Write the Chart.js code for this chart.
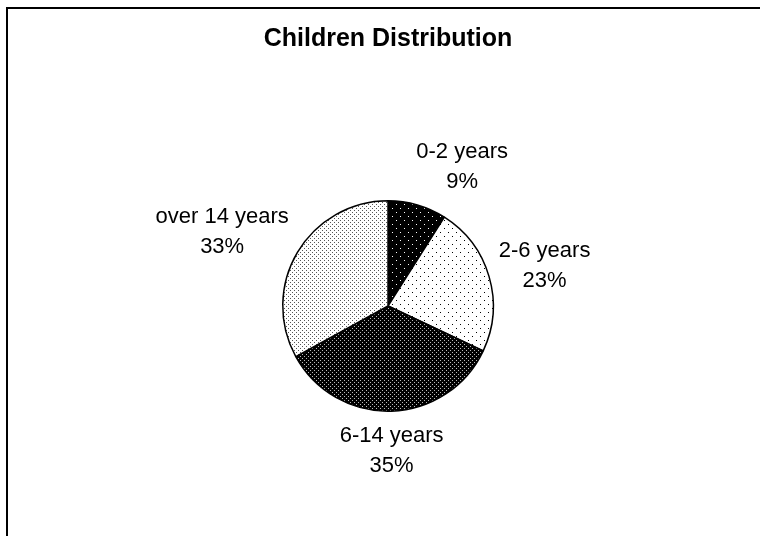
<!DOCTYPE html>
<html>
<head>
<meta charset="utf-8">
<script src="https://cdn.jsdelivr.net/npm/chart.js@4/dist/chart.umd.min.js"></script>
<style>
  html, body { margin: 0; padding: 0; background: #fff; }
  #wrap { width: 760px; height: 536px; }
</style>
</head>
<body>
<div id="wrap"><canvas id="graficoNinos" width="760" height="536"></canvas></div>
<script>
const categorias = ['0-2 years', '2-6 years', '6-14 years', 'over 14 years'];
const porcentajes = [9, 23, 35, 33];
const titulo = 'Children Distribution';

// dot patterns like the old print-style fills
function patron(size, fondo, punto, puntos) {
  const c = document.createElement('canvas');
  c.width = size; c.height = size;
  const g = c.getContext('2d');
  g.fillStyle = fondo;
  g.fillRect(0, 0, size, size);
  g.fillStyle = punto;
  puntos.forEach(p => g.fillRect(p[0], p[1], 1, 1));
  return g.createPattern(c, 'repeat');
}

const ctx = document.getElementById('graficoNinos').getContext('2d');
const rellenos = [
  patron(8, '#000', '#fff', [[0, 0], [4, 4]]),
  patron(8, '#fff', '#000', [[0, 0], [4, 4]]),
  patron(4, '#000', '#bbb', [[0, 0], [2, 2]]),
  patron(4, '#fff', '#555', [[0, 0], [2, 2]])
];

const marco = {
  id: 'marco',
  beforeDraw(chart) {
    const c = chart.ctx;
    c.save();
    c.fillStyle = '#fff';
    c.fillRect(0, 0, chart.width, chart.height);
    c.strokeStyle = '#000';
    c.lineWidth = 2;
    c.strokeRect(7, 8, 820, 620);
    c.restore();
  }
};

const etiquetas = {
  id: 'etiquetas',
  afterDatasetsDraw(chart) {
    const c = chart.ctx;
    const meta = chart.getDatasetMeta(0);
    const total = porcentajes.reduce((a, b) => a + b, 0);
    c.save();
    c.font = '22px "Liberation Sans", Arial, sans-serif';
    c.fillStyle = '#000';
    c.textAlign = 'center';
    c.textBaseline = 'middle';
    const alto = 30;
    meta.data.forEach((arc, i) => {
      const p = arc.getProps(['x', 'y', 'startAngle', 'endAngle', 'outerRadius'], true);
      const medio = (p.startAngle + p.endAngle) / 2;
      const dx = Math.cos(medio), dy = Math.sin(medio);
      const r = p.outerRadius + 10;
      const ax = p.x + dx * r, ay = p.y + dy * r;
      const lineas = [categorias[i], Math.round(porcentajes[i] / total * 100) + '%'];
      const ancho = Math.max(...lineas.map(t => c.measureText(t).width));
      const k = Math.sign(dx) * Math.min(1, Math.max(0, Math.abs(dx) - 0.05) * 4);
      const cx = ax + k * ancho / 2;
      const cy = ay + dy * alto;
      c.fillText(lineas[0], cx, cy - alto / 2);
      c.fillText(lineas[1], cx, cy + alto / 2);
    });
    c.restore();
  }
};

new Chart(ctx, {
  type: 'pie',
  data: {
    labels: categorias,
    datasets: [{
      data: porcentajes,
      backgroundColor: rellenos,
      borderColor: '#000',
      borderWidth: 1.5
    }]
  },
  options: {
    responsive: false,
    animation: false,
    layout: { padding: { left: 16, right: 0, top: 0, bottom: 124 } },
    plugins: {
      legend: { display: false },
      tooltip: { enabled: false },
      title: {
        display: true,
        text: titulo,
        color: '#000',
        font: { family: '"Liberation Sans", Arial, sans-serif', size: 25, weight: 'bold' },
        padding: { top: 24, bottom: 146 }
      }
    }
  },
  plugins: [marco, etiquetas]
});
</script>
</body>
</html>
